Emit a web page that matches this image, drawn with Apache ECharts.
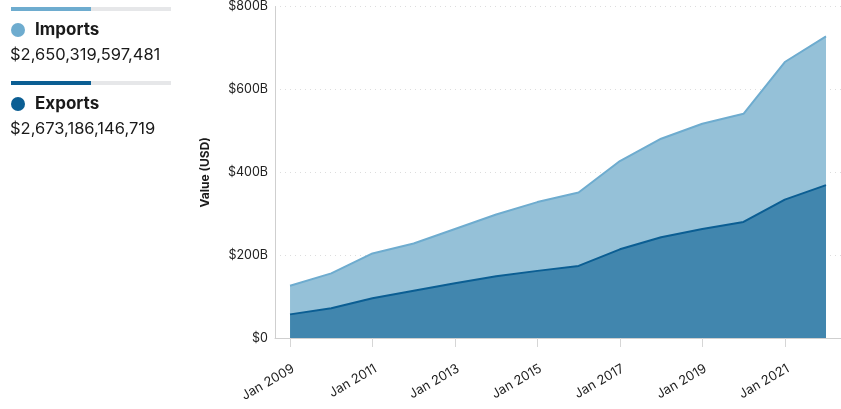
<!DOCTYPE html>
<html>
<head>
<meta charset="utf-8">
<script src="https://cdn.jsdelivr.net/npm/echarts@6/dist/echarts.min.js"></script>
<style>
  html, body { margin: 0; padding: 0; background: #fff; }
  #chart { width: 841px; height: 409px; }
</style>
</head>
<body>
<div id="chart"></div>
<script>
// yearly values (January of each year), billions of USD
const years = [2009, 2010, 2011, 2012, 2013, 2014, 2015, 2016, 2017, 2018, 2019, 2020, 2021, 2022];
const exportsData = [57, 72, 96, 114, 132, 149, 162, 174, 214, 243, 263, 280, 334, 369];
const importsData = [69, 84, 108, 114, 131, 149, 166, 177, 213, 238, 254, 261, 332, 359];
const tickYears = [2009, 2011, 2013, 2015, 2017, 2019, 2021];
const seriesNames = ["Imports", "Exports"];
const seriesTotals = ["$2,650,319,597,481", "$2,673,186,146,719"];

const FONT = "Inter, Roboto, sans-serif";
const impLine = "#6eaccf", impFill = "#95c1d8";
const expLine = "#0b5e93", expFill = "#4186ae";

const jan = y => Date.UTC(y, 0, 1);
// axis span in fractional years, padded ~15px each side
const X_MIN = 2008.636, X_MAX = 2022.364;
const yearToTime = y => {
  const base = Math.floor(y);
  return jan(base) + (y - base) * (jan(base + 1) - jan(base));
};

const chart = echarts.init(document.getElementById("chart"));

// hand built legend on the left
const legendColors = [impLine, expLine];
const legendGraphics = [];
seriesNames.forEach((name, i) => {
  const top = i * 74;
  legendGraphics.push(
    { type: "rect", left: 11, top: top + 7, shape: { width: 160, height: 4 }, style: { fill: "#e6e7e9" } },
    { type: "rect", left: 11, top: top + 7, shape: { width: 80, height: 4 }, style: { fill: legendColors[i] } },
    { type: "circle", left: 11, top: top + 23, shape: { r: 7 }, style: { fill: legendColors[i] } },
    { type: "text", left: 35, top: top + 21, style: { text: name, font: "bold 17px " + FONT, fill: "#1a1a1a" } },
    { type: "text", left: 10, top: top + 47, style: { text: seriesTotals[i], font: "16.5px " + FONT, fill: "#1a1a1a" } }
  );
});

chart.setOption({
  animation: false,
  grid: { left: 275, right: 0, top: 6, bottom: 71 },
  graphic: legendGraphics,
  xAxis: [
    {
      // data axis (time), ticks hidden
      type: "time",
      min: yearToTime(X_MIN),
      max: yearToTime(X_MAX),
      axisLine: { show: true, lineStyle: { color: "#cfcfcf" } },
      axisTick: { show: false },
      axisLabel: { show: false },
      splitLine: { show: false }
    },
    {
      // label axis, same span in years
      type: "value",
      position: "bottom",
      min: X_MIN,
      max: X_MAX,
      axisLine: { show: false },
      splitLine: { show: false },
      axisTick: { show: true, customValues: tickYears, length: 9, lineStyle: { color: "#d6d6d6" } },
      axisLabel: {
        customValues: tickYears,
        rotate: 30,
        margin: 24,
        verticalAlign: "top",
        color: "#222",
        fontFamily: FONT,
        fontSize: 13,
        formatter: v => "Jan " + v
      }
    }
  ],
  yAxis: {
    type: "value",
    min: 0,
    max: 800,
    interval: 200,
    name: "Value (USD)",
    nameLocation: "middle",
    nameGap: 64,
    nameTextStyle: { fontFamily: FONT, fontSize: 12, fontWeight: "bold", color: "#1a1a1a" },
    axisLine: { show: true, lineStyle: { color: "#cfcfcf" } },
    axisTick: { show: false },
    splitLine: { show: true, lineStyle: { color: "#dddddd", type: [1, 4] } },
    axisLabel: {
      color: "#222",
      fontFamily: FONT,
      fontSize: 12.5,
      margin: 7,
      formatter: v => (v === 0 ? "$0" : "$" + v + "B")
    }
  },
  series: [
    {
      name: "Exports",
      type: "line",
      stack: "total",
      symbol: "none",
      data: years.map((y, i) => [jan(y), exportsData[i]]),
      lineStyle: { color: expLine, width: 2 },
      areaStyle: { color: expFill, opacity: 1 },
      z: 3
    },
    {
      name: "Imports",
      type: "line",
      stack: "total",
      symbol: "none",
      data: years.map((y, i) => [jan(y), importsData[i]]),
      lineStyle: { color: impLine, width: 2 },
      areaStyle: { color: impFill, opacity: 1 },
      z: 2
    }
  ]
});
</script>
</body>
</html>
